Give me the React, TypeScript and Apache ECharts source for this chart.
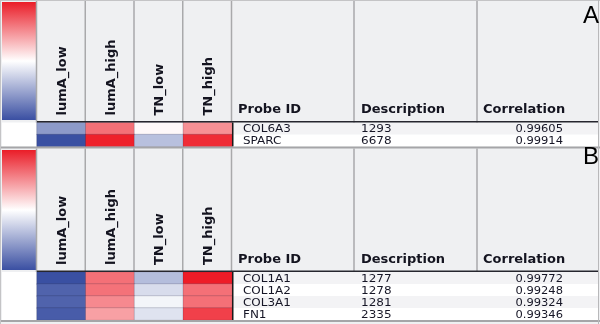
import React, { useEffect, useRef } from 'react';
import * as echarts from 'echarts';

const sampleGroups = ['lumA_low', 'lumA_high', 'TN_low', 'TN_high'];
const tableHeaders = ['Probe ID', 'Description', 'Correlation'];
const panelLabels = ['A', 'B'];

const panelAProbes = ['COL6A3', 'SPARC'];
const panelADescriptions = ['1293', '6678'];
const panelACorrelations = ['0.99605', '0.99914'];
const panelAValues = [
  [-0.58, 0.63, 0.03, 0.49],
  [-1.0, 0.98, -0.36, 0.93],
];

const panelBProbes = ['COL1A1', 'COL1A2', 'COL3A1', 'FN1'];
const panelBDescriptions = ['1277', '1278', '1281', '2335'];
const panelBCorrelations = ['0.99772', '0.99248', '0.99324', '0.99346'];
const panelBValues = [
  [-1.0, 0.63, -0.38, 1.0],
  [-0.89, 0.62, -0.2, 0.63],
  [-0.89, 0.52, -0.06, 0.63],
  [-0.93, 0.42, -0.16, 0.84],
];

const BLUE = '#3a50a2';
const RED = '#ee1c27';
const FONT = 'DejaVu Sans';

type Panel = {
  probes: string[];
  descs: string[];
  corrs: string[];
  values: number[][];
  top: number;
  barTop: number;
  barBottom: number;
  headerBottom: number;
  bottom: number;
  labelY: number;
};

const panels: Panel[] = [
  { probes: panelAProbes, descs: panelADescriptions, corrs: panelACorrelations, values: panelAValues,
    top: 0, barTop: 2, barBottom: 120, headerBottom: 122.5, bottom: 146.5, labelY: 2 },
  { probes: panelBProbes, descs: panelBDescriptions, corrs: panelBCorrelations, values: panelBValues,
    top: 148.5, barTop: 150, barBottom: 270, headerBottom: 272, bottom: 320, labelY: 143 },
];

const HEAT_LEFT = 37;
const HEAT_WIDTH = 195;
const TABLE_RIGHT = 598;

export default function App() {
  const ref = useRef<HTMLDivElement>(null);

  useEffect(() => {
    if (!ref.current) return;
    const chart = echarts.init(ref.current, undefined, { renderer: 'svg' });

    const grids = panels.map((p) => ({
      left: HEAT_LEFT,
      top: p.headerBottom,
      width: HEAT_WIDTH,
      height: p.bottom - p.headerBottom,
    }));

    const xAxes = panels.map((_, i) => ({
      type: 'category',
      gridIndex: i,
      data: sampleGroups,
      position: 'top',
      axisLine: { show: false },
      axisTick: { show: false },
      splitLine: { show: false },
      axisLabel: {
        rotate: -90,
        margin: 7,
        fontSize: 13,
        fontWeight: 'bold',
        fontFamily: FONT,
        color: '#141420',
        interval: 0,
      },
      z: 20,
    }));

    const yAxes = panels.map((p, i) => ({
      type: 'category',
      gridIndex: i,
      data: p.probes,
      inverse: true,
      axisLine: { show: false },
      axisTick: { show: false },
      axisLabel: { show: false },
      splitLine: { show: false },
    }));

    const series = panels.map((p, i) => ({
      type: 'heatmap',
      xAxisIndex: i,
      yAxisIndex: i,
      data: p.values.flatMap((row, r) => row.map((v, c) => [c, r, v])),
      itemStyle: { borderColor: 'rgba(30,30,60,0.18)', borderWidth: 1 },
      emphasis: { disabled: true },
      z: 5,
    }));

    chart.setOption({
      animation: false,
      grid: grids,
      xAxis: xAxes,
      yAxis: yAxes,
      visualMap: {
        type: 'continuous',
        show: false,
        min: -1,
        max: 1,
        seriesIndex: [0, 1],
        inRange: { color: [BLUE, '#ffffff', RED] },
      },
      series,
    });

    const els: any[] = [];
    els.push({ type: 'rect', shape: { x: 0, y: 0, width: 600, height: 324 }, style: { fill: '#eff0f2' }, z: 0 });

    panels.forEach((p, pi) => {
      els.push({
        type: 'rect',
        shape: { x: 2, y: p.barTop, width: 34, height: p.barBottom - p.barTop },
        style: {
          fill: new echarts.graphic.LinearGradient(0, 0, 0, 1, [
            { offset: 0, color: '#ea1d28' },
            { offset: 0.5, color: '#ffffff' },
            { offset: 1, color: '#3a4fa2' },
          ]),
        },
        z: 1,
      });
      els.push({
        type: 'rect',
        shape: { x: 2, y: p.headerBottom, width: 34, height: p.bottom - p.headerBottom },
        style: { fill: '#ffffff' },
        z: 1,
      });
      const rowH = (p.bottom - p.headerBottom) / p.probes.length;
      p.probes.forEach((_, r) => {
        els.push({
          type: 'rect',
          shape: { x: 233, y: p.headerBottom + r * rowH, width: TABLE_RIGHT - 233, height: rowH },
          style: { fill: r % 2 === 0 ? '#f3f3f5' : '#ffffff' },
          z: 1,
        });
      });
      const colW = HEAT_WIDTH / sampleGroups.length;
      const seps = [HEAT_LEFT - 0.5];
      for (let k = 1; k <= sampleGroups.length; k++) seps.push(HEAT_LEFT + k * colW - 0.5);
      seps.push(354, 477);
      seps.forEach((x) => {
        els.push({
          type: 'line',
          shape: { x1: x, y1: p.top, x2: x, y2: p.headerBottom },
          style: { stroke: '#a9a9ab', lineWidth: 1.5 },
          z: 2,
        });
      });
      els.push({
        type: 'line',
        shape: { x1: HEAT_LEFT, y1: p.headerBottom - 0.75, x2: TABLE_RIGHT, y2: p.headerBottom - 0.75 },
        style: { stroke: '#26262e', lineWidth: 1.5 },
        z: 30,
      });
      els.push({
        type: 'line',
        shape: { x1: 232.75, y1: p.headerBottom, x2: 232.75, y2: p.bottom },
        style: { stroke: '#1a1a1a', lineWidth: 1.5 },
        z: 30,
      });
      els.push({
        type: 'line',
        shape: { x1: 0, y1: p.bottom + 1, x2: 600, y2: p.bottom + 1 },
        style: { stroke: '#a5a5a8', lineWidth: 2 },
        z: 30,
      });
      const hx = [238, 361, 483];
      tableHeaders.forEach((h, k) => {
        els.push({
          type: 'text',
          x: hx[k],
          y: p.headerBottom - 14,
          style: {
            text: h,
            fontSize: 13,
            fontWeight: 'bold',
            fontFamily: FONT,
            fill: '#141420',
            align: 'left',
            verticalAlign: 'middle',
          },
          z: 20,
        });
      });
      p.probes.forEach((probe, r) => {
        const pt = chart.convertToPixel({ gridIndex: pi } as any, [0, r]) as number[];
        const cy = pt[1] + 0.5;
        const base = { fontSize: 10, lineHeight: 10, fontFamily: FONT, fill: '#161626', verticalAlign: 'middle' };
        els.push({ type: 'text', x: 243, y: cy, scaleX: 1.2, style: { ...base, text: probe, align: 'left' }, z: 20 });
        els.push({ type: 'text', x: 361, y: cy, scaleX: 1.2, style: { ...base, text: p.descs[r], align: 'left' }, z: 20 });
        els.push({ type: 'text', x: 563, y: cy, scaleX: 1.15, style: { ...base, text: p.corrs[r], align: 'right' }, z: 20 });
      });
      els.push({
        type: 'text',
        x: 599,
        y: p.labelY,
        style: {
          text: panelLabels[pi],
          fontSize: 24,
          fontFamily: 'Liberation Sans',
          fill: '#000000',
          align: 'right',
          verticalAlign: 'top',
        },
        z: 40,
      });
    });

    els.push({ type: 'line', shape: { x1: 0.5, y1: 0, x2: 0.5, y2: 324 }, style: { stroke: '#c4c4c6', lineWidth: 1 }, z: 30 });
    els.push({ type: 'line', shape: { x1: 0, y1: 0.5, x2: 600, y2: 0.5 }, style: { stroke: '#c4c4c6', lineWidth: 1 }, z: 30 });
    els.push({ type: 'line', shape: { x1: 598.5, y1: 0, x2: 598.5, y2: 324 }, style: { stroke: '#b8b8ba', lineWidth: 1 }, z: 30 });

    chart.setOption({ graphic: { elements: els } });

    return () => chart.dispose();
  }, []);

  return (
    <div
      ref={ref}
      style={{ position: 'fixed', left: 0, top: 0, width: 600, height: 324 }}
    />
  );
}
